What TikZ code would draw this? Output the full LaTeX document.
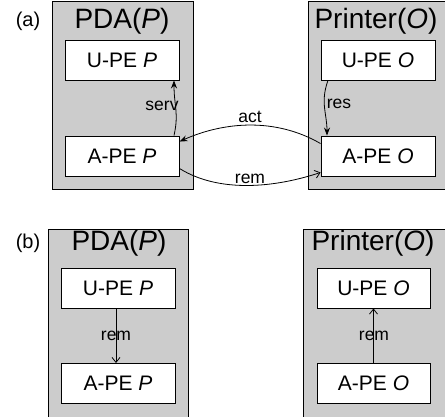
\documentclass[tikz,border=0pt]{standalone}
\usepackage{fontspec}
\setmainfont{Liberation Sans}
\usetikzlibrary{arrows.meta,calc}
\definecolor{devgray}{RGB}{204,204,204}
\begin{document}
\begin{tikzpicture}[x=1pt,y=-1pt,
  device/.style={draw=black,line width=0.9pt,fill=devgray,inner sep=0pt},
  pebox/.style={draw=black,line width=0.9pt,fill=white,minimum width=114pt,minimum height=40pt,inner sep=0pt,font=\fontsize{21}{24}\selectfont},
  title/.style={inner sep=0pt,font=\fontsize{28}{31}\selectfont},
  plabel/.style={inner sep=0pt,font=\fontsize{20}{23}\selectfont},
  elabel/.style={inner sep=0pt,font=\fontsize{17.5}{20}\selectfont},
  conn/.style={line width=0.8pt},
  filled/.style={conn,-{Stealth[length=8pt,width=6pt]}},
  openarr/.style={conn,-{Straight Barb[length=5pt,width=8pt]}}]
\useasboundingbox (0,0) rectangle (445,417);
% (a)
\node[device,minimum width=141pt,minimum height=188pt] (devPa) at (122.5,95) {};
\node[device,minimum width=138pt,minimum height=188pt] (devOa) at (377,95) {};
\node[plabel] (lbla) at (28,21) {(a)};
\node[title] (tPa) at (122,21) {PDA(\textit{P})};
\node[title] (tOa) at (376,21) {Printer(\textit{O})};
\node[pebox] (upeP) at (122,60) {U-PE \textit{P}};
\node[pebox] (apeP) at (122,156) {A-PE \textit{P}};
\node[pebox] (upeO) at (378,60) {U-PE \textit{O}};
\node[pebox] (apeO) at (378,156) {A-PE \textit{O}};
\draw[filled] ($(apeP.north)+(52,0)$) .. controls +(5,-22) and +(0,25) .. ($(upeP.south)+(52,0)$);
\node[elabel] (lserv) at (162,106) {serv};
\draw[filled] ($(upeO.south)+(-50,0)$) .. controls +(-8,22) and +(0,-22) .. ($(apeO.north)+(-51,0)$);
\node[elabel] (lres) at (339,104) {res};
\draw[filled] ($(apeO.north west)+(0,8)$) .. controls +(-45,-26) and +(45,-20) .. ($(apeP.north east)+(0,6)$);
\node[elabel] (lact) at (250,117) {act};
\draw[openarr] ($(apeP.south east)+(0,-8)$) .. controls +(40,25) and +(-45,15) .. ($(apeO.south west)+(0,-4)$);
\node[elabel] (lrema) at (250,179) {rem};
% (b)
\node[device,minimum width=140pt,minimum height=190pt] (devPb) at (118,324) {};
\node[device,minimum width=142pt,minimum height=190pt] (devOb) at (374,324) {};
\node[plabel] (lblb) at (28,243) {(b)};
\node[title] (tPb) at (119,243) {PDA(\textit{P})};
\node[title] (tOb) at (373,243) {Printer(\textit{O})};
\node[pebox] (upePb) at (118,288) {U-PE \textit{P}};
\node[pebox] (apePb) at (118,383.5) {A-PE \textit{P}};
\node[pebox,minimum width=113pt] (upeOb) at (373.5,288) {U-PE \textit{O}};
\node[pebox,minimum width=113pt] (apeOb) at (373.5,383.5) {A-PE \textit{O}};
\draw[openarr] ($(upePb.south)+(-2,0)$) -- ($(apePb.north)+(-2,0)$);
\node[elabel] (lremb1) at (116,336) {rem};
\draw[openarr] (apeOb.north) -- (upeOb.south);
\node[elabel] (lremb2) at (374,336) {rem};
\end{tikzpicture}
\end{document}
